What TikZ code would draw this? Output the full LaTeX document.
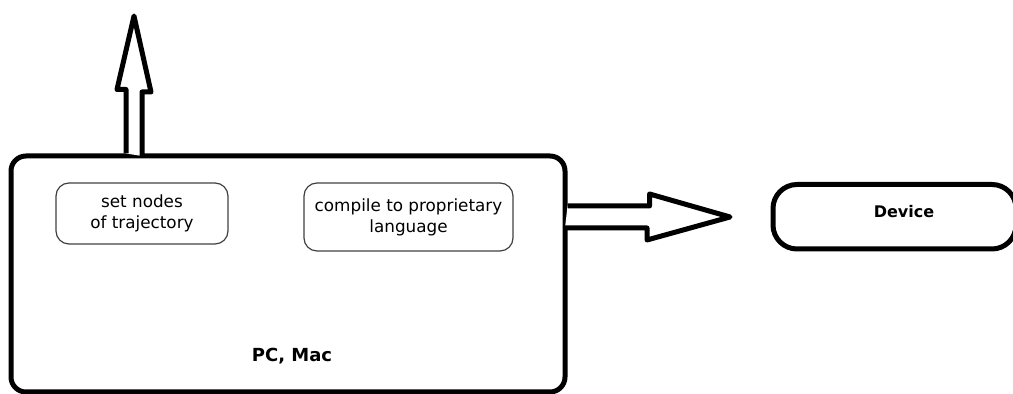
\documentclass[tikz,border=0pt]{standalone}
\usepackage{fontspec}
\setmainfont{DejaVu Sans}

\begin{document}
\begin{tikzpicture}[x=0.5pt, y=-0.5pt,
	hostbox/.style={draw, line width=2.5pt, rounded corners=7.5pt, inner sep=0pt},
	taskbox/.style={draw=black!75, line width=0.6pt, rounded corners=6.5pt, align=center, inner sep=0pt, font=\fontsize{8.4}{10.5}\selectfont},
	fatarrow/.style={draw, line width=2.5pt, line join=round, fill=white},
	boldlabel/.style={font=\bfseries\fontsize{8}{10}\selectfont}]

	\useasboundingbox (0, 0) rectangle (1013, 394);
	\clip (0, 0) rectangle (1013, 394);

	\node[hostbox, minimum width=277pt, minimum height=118pt] (pc) at (288, 274) {};
	\node[boldlabel, font=\bfseries\fontsize{9}{11}\selectfont] (pclabel) at (292, 356) {PC, Mac};

	\node[taskbox, minimum width=86pt, minimum height=30.5pt] (setnodes) at (142, 213.5) {set nodes\\of trajectory};
	\node[taskbox, minimum width=104.5pt, minimum height=34pt] (compile) at (408.5, 217) {compile to proprietary\\language};

	\node[hostbox, rounded corners=12pt, minimum width=121.5pt, minimum height=32.25pt] (device) at (894.5, 216.75) {};
	\node[boldlabel] (devicelabel) at (904, 212) {Device};

%	\draw[thick] (pc.north) -- (uptip);
	\coordinate (uptip) at (134, 16);
	\coordinate (righttip) at (730, 217);

	\draw[fatarrow] (pc.north -| uptip) ++(-8, 0) -- ++(0, -64) -- ++(-9, 0) -- (uptip)
		-- ++(17, 76) -- ++(-9, 0) -- ++(0, 64);
	\draw[fatarrow] (pc.east |- righttip) ++(0, -11) -- ++(82, 0) -- ++(0, -12) -- (righttip)
		-- ++(-83, 23) -- ++(0, -12) -- ++(-82, 0);

\end{tikzpicture}
\end{document}
